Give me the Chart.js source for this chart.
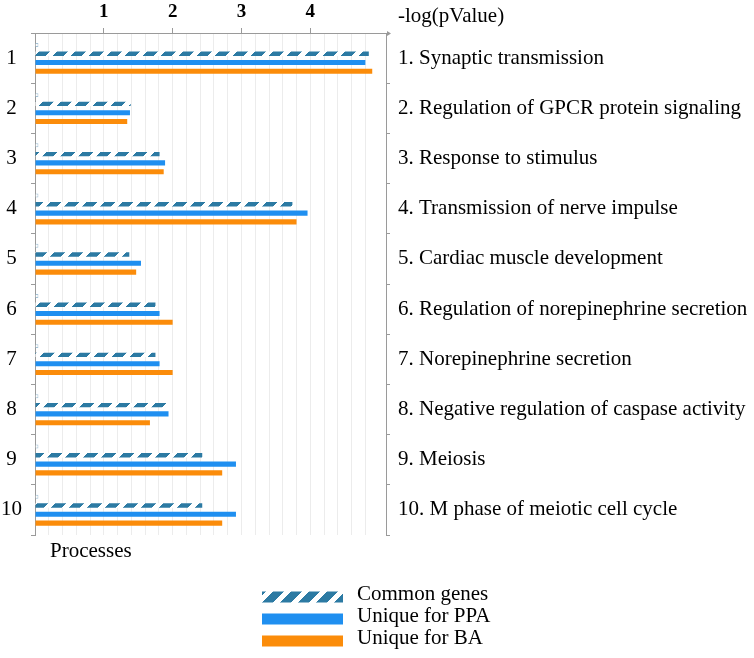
<!DOCTYPE html>
<html>
<head>
<meta charset="utf-8">
<script src="https://cdn.jsdelivr.net/npm/chart.js@4/dist/chart.umd.min.js"></script>
<style>
  body { margin: 0; background: #fff; }
  #wrap { width: 754px; height: 658px; position: relative; }
</style>
</head>
<body>
<div id="wrap"><canvas id="processChart"></canvas></div>
<script>
// process numbers (left) and names (right)
var groupLabels = ['1', '2', '3', '4', '5', '6', '7', '8', '9', '10'];
var processNames = [
  '1. Synaptic transmission',
  '2. Regulation of GPCR protein signaling',
  '3. Response to stimulus',
  '4. Transmission of nerve impulse',
  '5. Cardiac muscle development',
  '6. Regulation of norepinephrine secretion',
  '7. Norepinephrine secretion',
  '8. Negative regulation of caspase activity',
  '9. Meiosis',
  '10. M phase of meiotic cell cycle'
];
var xTickLabels = [1, 2, 3, 4];

// -log(pValue) per process
var emptySeries  = [0.05, 0.05, 0.05, 0.05, 0.05, 0.05, 0.05, 0.05, 0.05, 0.05];
var commonGenes  = [4.85, 1.39, 1.81, 3.74, 1.37, 1.75, 1.75, 1.92, 2.43, 2.43];
var uniquePPA    = [4.80, 1.38, 1.89, 3.96, 1.54, 1.81, 1.81, 1.94, 2.92, 2.92];
var uniqueBA     = [4.90, 1.34, 1.87, 3.80, 1.47, 2.00, 2.00, 1.67, 2.72, 2.72];

var serif = "'Liberation Serif', 'DejaVu Serif', serif";

// striped fill for the common genes bars
function makeStripes() {
  var size = 18;
  var c = document.createElement('canvas');
  c.width = size; c.height = size;
  var g = c.getContext('2d');
  var img = g.createImageData(size, size);
  for (var y = 0; y < size; y++) {
    for (var x = 0; x < size; x++) {
      var dark = ((x + y) % size) < 11;
      var i = (y * size + x) * 4;
      img.data[i]     = dark ? 44 : 255;
      img.data[i + 1] = dark ? 122 : 255;
      img.data[i + 2] = dark ? 163 : 255;
      img.data[i + 3] = 255;
    }
  }
  g.putImageData(img, 0, 0);
  return document.createElement('canvas').getContext('2d').createPattern(c, 'repeat');
}
var stripes = makeStripes();

var extras = {
  id: 'extras',
  afterDraw: function(chart) {
    var ctx = chart.ctx;
    var area = chart.chartArea;
    ctx.save();

    // arrow at the end of the top axis
    ctx.strokeStyle = '#9a9a9a';
    ctx.fillStyle = '#9a9a9a';
    ctx.lineWidth = 1;
    ctx.beginPath();
    ctx.moveTo(area.left - 2, area.top + 0.5);
    ctx.lineTo(area.right + 2, area.top + 0.5);
    ctx.stroke();
    ctx.beginPath();
    ctx.moveTo(area.right + 5, area.top + 0.5);
    ctx.lineTo(area.right + 1, area.top - 2);
    ctx.lineTo(area.right + 1, area.top + 3);
    ctx.closePath();
    ctx.fill();

    ctx.fillStyle = '#000';
    ctx.textBaseline = 'middle';
    ctx.textAlign = 'left';
    ctx.font = '21px ' + serif;
    ctx.fillText('-log(pValue)', area.right + 12, 16);

    ctx.font = '21px ' + serif;
    ctx.fillText('Processes', 50, 551);

    // legend
    var items = chart.data.datasets.filter(function(d) { return d.label; });
    for (var i = 0; i < items.length; i++) {
      var cy = 597 + i * 22;
      ctx.fillStyle = items[i].backgroundColor;
      ctx.fillRect(262, cy - 5.5, 81, 11);
      ctx.fillStyle = '#000';
      ctx.font = '21px ' + serif;
      ctx.fillText(items[i].label, 357, cy - 3);
    }
    ctx.restore();
  }
};

var ctx = document.getElementById('processChart').getContext('2d');
var chart = new Chart(ctx, {
  type: 'bar',
  data: {
    labels: groupLabels,
    datasets: [{
      label: '',
      data: emptySeries,
      backgroundColor: '#ffffff',
      borderColor: '#a4c2d6',
      borderWidth: 1,
      barPercentage: 0.45
    }, {
      label: 'Common genes',
      data: commonGenes,
      backgroundColor: stripes,
      barPercentage: 0.5
    }, {
      label: 'Unique for PPA',
      data: uniquePPA,
      backgroundColor: '#1f8ff0',
      barPercentage: 0.58
    }, {
      label: 'Unique for BA',
      data: uniqueBA,
      backgroundColor: '#fb8c0a',
      barPercentage: 0.58
    }]
  },
  options: {
    indexAxis: 'y',
    responsive: true,
    maintainAspectRatio: false,
    animation: false,
    layout: { padding: { top: 0, left: 0, right: 0, bottom: 123 } },
    datasets: { bar: { categoryPercentage: 0.7 } },
    plugins: {
      legend: { display: false },
      tooltip: { enabled: false }
    },
    scales: {
      x: {
        position: 'top',
        min: 0,
        max: 5.1,
        afterFit: function(scale) { scale.height = 33; },
        border: { display: false },
        grid: {
          color: '#ececec',
          tickLength: 5,
          tickColor: function(c) {
            var v = c.tick ? c.tick.value : 0;
            var isInt = Math.abs(v - Math.round(v)) < 1e-6;
            return (isInt && xTickLabels.indexOf(Math.round(v)) >= 0) ? '#9a9a9a' : 'rgba(0,0,0,0)';
          }
        },
        ticks: {
          stepSize: 0.2,
          autoSkip: false,
          maxRotation: 0,
          padding: 5,
          color: '#000',
          font: { family: serif, size: 19, weight: 'bold' },
          callback: function(v) {
            var r = Math.round(v);
            if (Math.abs(v - r) < 1e-6 && xTickLabels.indexOf(r) >= 0) return String(r);
            return '';
          }
        }
      },
      y: {
        position: 'left',
        afterFit: function(scale) { scale.width = 35; },
        border: { color: '#9a9a9a' },
        grid: { drawOnChartArea: false, tickLength: 4, tickColor: '#9a9a9a' },
        ticks: {
          crossAlign: 'center',
          padding: 9,
          color: '#000',
          font: { family: serif, size: 21 }
        }
      },
      y2: {
        type: 'category',
        position: 'right',
        labels: processNames,
        offset: true,
        afterFit: function(scale) { scale.width = 368; },
        border: { color: '#9a9a9a' },
        grid: { drawOnChartArea: false, offset: true, tickLength: 4, tickColor: '#9a9a9a' },
        ticks: {
          padding: 8,
          color: '#000',
          font: { family: serif, size: 21 }
        }
      }
    }
  },
  plugins: [extras]
});
</script>
</body>
</html>
